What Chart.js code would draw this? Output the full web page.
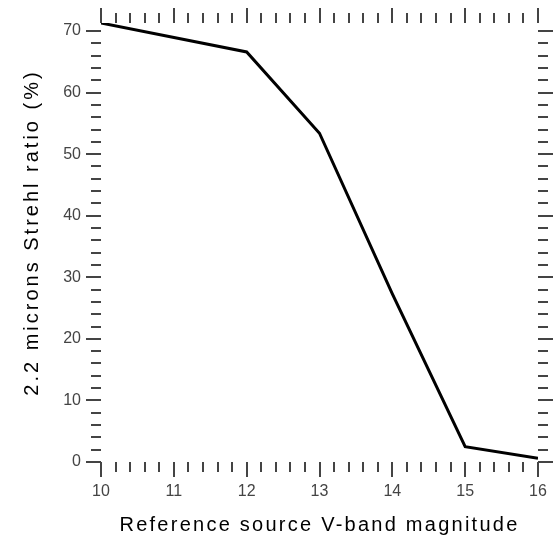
<!DOCTYPE html>
<html>
<head>
<meta charset="utf-8">
<script src="https://cdn.jsdelivr.net/npm/chart.js@4.4.1/dist/chart.umd.min.js"></script>
<style>
  html, body { margin: 0; padding: 0; background: #fff; }
  #wrap { width: 554px; height: 541px; position: relative; }
</style>
</head>
<body>
<div id="wrap"><canvas id="c" width="554" height="541"></canvas></div>
<script>
// ---- data ----
const magnitudes = [10, 12, 13, 14, 15, 16];
const strehlRatio = [71.3, 66.6, 53.4, 27.3, 2.5, 0.6];
const xTickLabels = [10, 11, 12, 13, 14, 15, 16];
const yTickLabels = [0, 10, 20, 30, 40, 50, 60, 70];
const xMinorTicks = [10.2, 10.4, 10.6, 10.8, 11.2, 11.4, 11.6, 11.8, 12.2, 12.4, 12.6, 12.8,
                     13.2, 13.4, 13.6, 13.8, 14.2, 14.4, 14.6, 14.8, 15.2, 15.4, 15.6, 15.8];
const yMinorTicks = [2, 4, 6, 8, 12, 14, 16, 18, 22, 24, 26, 28, 32, 34, 36, 38,
                     42, 44, 46, 48, 52, 54, 56, 58, 62, 64, 66, 68];
const xTitle = 'Reference source V-band magnitude';
const yTitle = '2.2 microns Strehl ratio (%)';

const FONT = '"Liberation Sans", Arial, Helvetica, sans-serif';

// spaced-out axis titles
const origDrawTitle = Chart.LinearScale.prototype.drawTitle;
Chart.LinearScale.prototype.drawTitle = function () {
  const ctx = this.ctx;
  ctx.save();
  if ('letterSpacing' in ctx) ctx.letterSpacing = this.axis === 'y' ? '3px' : '2.25px';
  if (this.axis === 'y') ctx.translate(0, -10);
  origDrawTitle.call(this);
  ctx.restore();
};

const zeroPad = (s) => { s.paddingLeft = 0; s.paddingRight = 0; s.paddingTop = 0; s.paddingBottom = 0; };

const tickMarks = {
  id: 'tickMarks',
  afterDraw(chart) {
    const {ctx, chartArea: a, scales: {x, y}} = chart;
    ctx.save();
    ctx.strokeStyle = '#444';
    ctx.lineWidth = 2;
    ctx.beginPath();
    const MAJ = 15, MIN = 10;
    const vx = (v, len) => {
      const p = Math.round(x.getPixelForValue(v));
      ctx.moveTo(p, a.bottom); ctx.lineTo(p, a.bottom + len);
      ctx.moveTo(p, a.top); ctx.lineTo(p, a.top - len);
    };
    const hy = (v, len) => {
      const p = Math.round(y.getPixelForValue(v));
      ctx.moveTo(a.left, p); ctx.lineTo(a.left - len, p);
      ctx.moveTo(a.right, p); ctx.lineTo(a.right + len, p);
    };
    xTickLabels.forEach(v => vx(v, MAJ));
    xMinorTicks.forEach(v => vx(v, MIN));
    yTickLabels.forEach(v => hy(v, MAJ));
    yMinorTicks.forEach(v => hy(v, MIN));
    ctx.stroke();
    ctx.restore();
  }
};

new Chart(document.getElementById('c'), {
  type: 'line',
  data: {
    datasets: [{
      data: magnitudes.map((m, i) => ({x: m, y: strehlRatio[i]})),
      borderColor: '#000',
      borderWidth: 3,
      pointRadius: 0,
      tension: 0,
      fill: false
    }]
  },
  options: {
    responsive: false,
    animation: false,
    devicePixelRatio: 1,
    layout: { padding: { top: 23, right: 16, left: 0, bottom: 0 } },
    plugins: { legend: { display: false }, tooltip: { enabled: false } },
    scales: {
      x: {
        type: 'linear',
        min: 10, max: 16,
        afterFit(s) { s.height = 79; zeroPad(s); },
        afterBuildTicks(s) { s.ticks = xTickLabels.map(v => ({value: v})); },
        grid: { display: false, drawTicks: false },
        border: { display: false },
        ticks: {
          autoSkip: false, maxRotation: 0, padding: 20,
          color: '#444', font: { family: FONT, size: 16 }
        },
        title: {
          display: true, text: xTitle, color: '#000',
          font: { family: FONT, size: 20 },
          padding: { top: 0, bottom: 4 }
        }
      },
      y: {
        type: 'linear',
        min: 0, max: 71.3,
        afterFit(s) { s.width = 101; zeroPad(s); },
        afterBuildTicks(s) { s.ticks = yTickLabels.map(v => ({value: v})); },
        grid: { display: false, drawTicks: false },
        border: { display: false },
        ticks: {
          padding: 20,
          color: '#444', font: { family: FONT, size: 16 }
        },
        title: {
          display: true, text: yTitle, color: '#000',
          font: { family: FONT, size: 20 },
          padding: { top: 20, bottom: 0 }
        }
      }
    }
  },
  plugins: [tickMarks]
});
</script>
</body>
</html>
